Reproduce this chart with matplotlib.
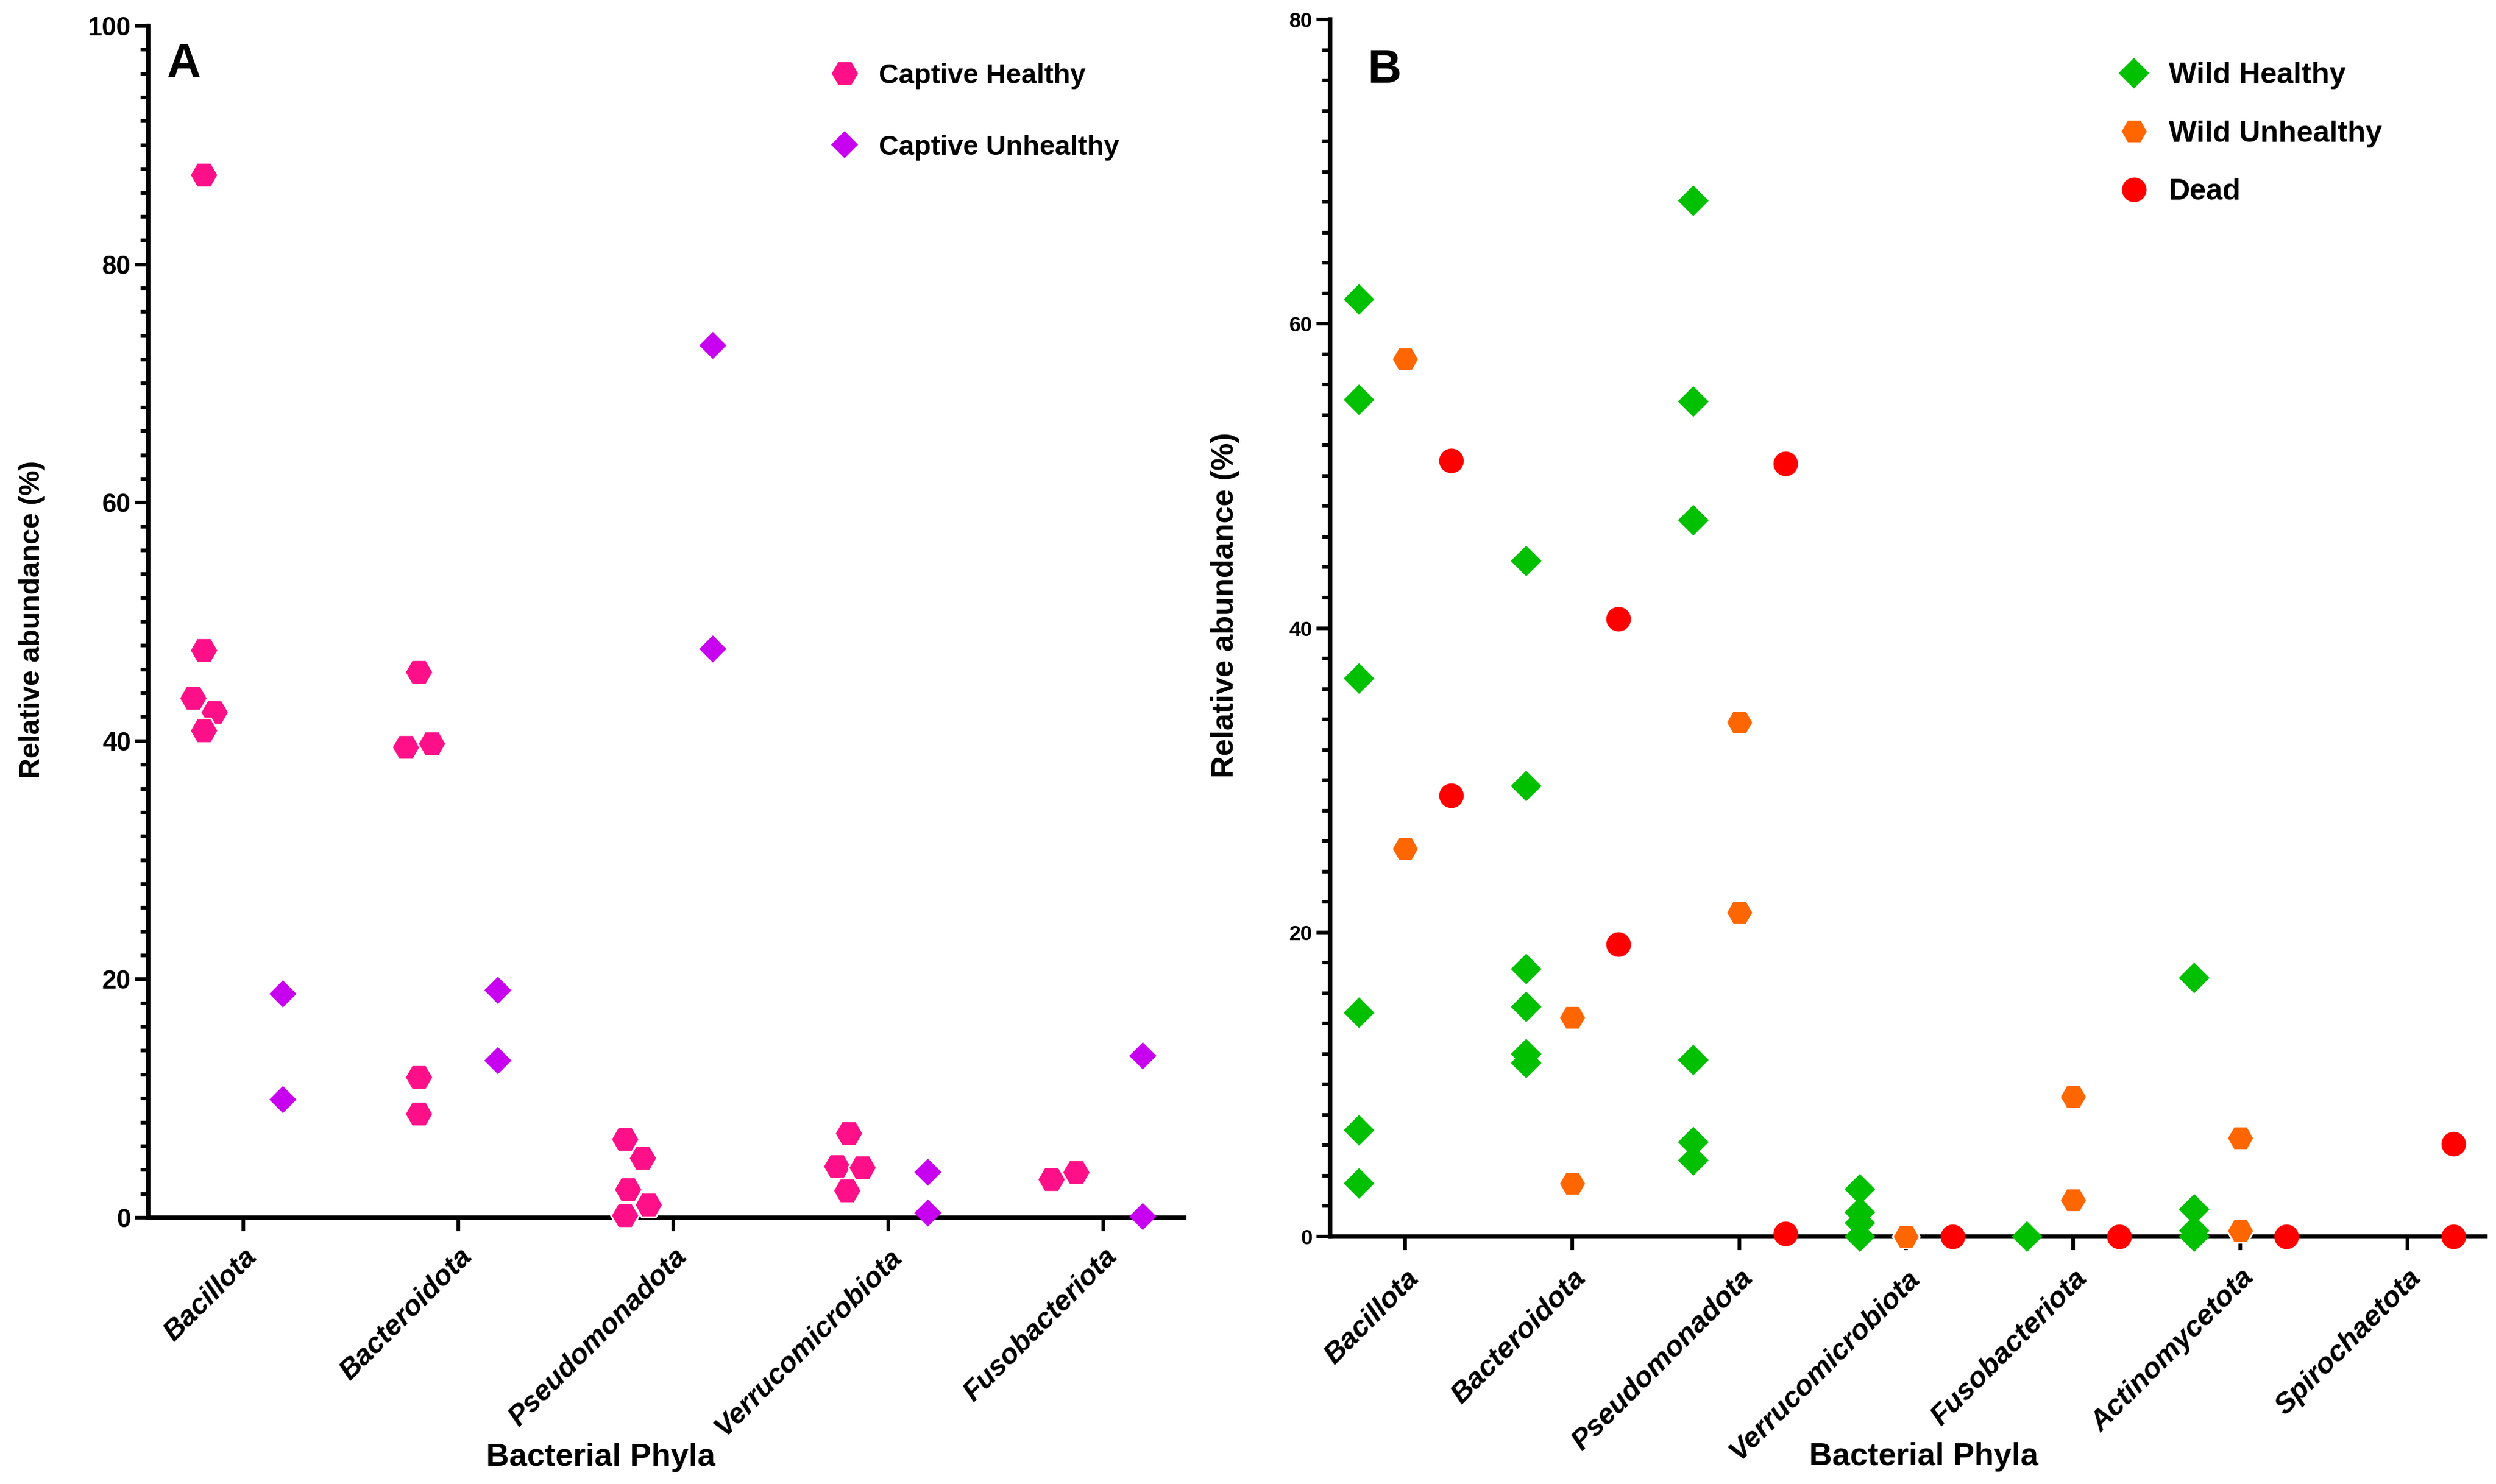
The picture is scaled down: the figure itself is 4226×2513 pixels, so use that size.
import numpy as np
import matplotlib
matplotlib.use('Agg')
import matplotlib.pyplot as plt
from matplotlib.lines import Line2D
from matplotlib.ticker import MultipleLocator

plt.rcParams['font.family'] = ['Liberation Sans', 'DejaVu Sans']
plt.rcParams['font.weight'] = 'bold'

# ---- panel A data (captive animals) ----
phyla_a = ['Bacillota', 'Bacteroidota', 'Pseudomonadota', 'Verrucomicrobiota', 'Fusobacteriota']
captive_healthy = [
    [87.5, 47.6, 43.6, 42.4, 40.9],
    [45.8, 39.5, 39.8, 11.8, 8.7],
    [6.6, 5.0, 2.4, 1.1, 0.2],
    [7.1, 4.3, 4.2, 2.3],
    [3.2, 3.8],
]
captive_unhealthy = [
    [18.8, 9.9],
    [19.1, 13.2],
    [73.2, 47.7],
    [3.8, 0.4],
    [13.6, 0.1],
]

# ---- panel B data (wild / dead animals) ----
phyla_b = ['Bacillota', 'Bacteroidota', 'Pseudomonadota', 'Verrucomicrobiota',
           'Fusobacteriota', 'Actinomycetota', 'Spirochaetota']
wild_healthy = [
    [61.6, 55.0, 36.7, 14.7, 7.0, 3.5],
    [44.4, 29.6, 17.6, 15.1, 12.0, 11.4],
    [68.1, 54.9, 47.1, 11.6, 6.2, 5.0],
    [3.1, 1.6, 0.9, 0.0],
    [0.0],
    [17.0, 1.8, 0.4, 0.0],
    [],
]
wild_unhealthy = [
    [57.7, 25.5],
    [14.4, 3.5],
    [33.8, 21.3],
    [0.0],
    [9.2, 2.4],
    [6.5, 0.4],
    [],
]
dead = [
    [51.0, 29.0],
    [40.6, 19.2],
    [50.8, 0.2],
    [0.0],
    [0.0],
    [0.0],
    [6.1, 0.0],
]

PINK = '#FF1088'
PURPLE = '#C800F0'
GREEN = '#00C000'
ORANGE = '#FF6600'
RED = '#FF0000'

DPI = 300
fig = plt.figure(figsize=(4226 / DPI, 2513 / DPI), dpi=DPI)
ax_a = fig.add_axes([0.0594, 0.17947, 0.4150, 0.8030])
ax_b = fig.add_axes([0.53289, 0.16673, 0.46285, 0.82014])


def swarm_x(ax, xc, values, diam_pt):
    """Beeswarm-style x positions so markers in one column do not overlap."""
    diam = diam_pt * ax.figure.dpi / 72
    px_per_x = ax.transData.transform((1, 0))[0] - ax.transData.transform((0, 0))[0]
    ypx = [ax.transData.transform((xc, v))[1] for v in values]
    offs = []
    for i, y in enumerate(ypx):
        prev = list(zip(offs, ypx[:i]))
        cands = [0.0]
        for ox, oy in prev:
            dy = abs(y - oy)
            if dy < diam:
                dx = np.sqrt(diam ** 2 - dy ** 2)
                cands += [ox + dx, ox - dx]
        cands.sort(key=lambda c: (round(abs(c), 6), -c))
        for c in cands:
            if all((c - ox) ** 2 + (y - oy) ** 2 >= diam ** 2 - 1e-6 for ox, oy in prev):
                offs.append(c)
                break
        else:
            offs.append(max(cands) + diam)
    # centre each cluster of touching markers on the column
    n = len(offs)
    parent = list(range(n))

    def find(a):
        while parent[a] != a:
            a = parent[a]
        return a
    for i in range(n):
        for j in range(i):
            if (offs[i] - offs[j]) ** 2 + (ypx[i] - ypx[j]) ** 2 < (diam * 1.01) ** 2:
                parent[find(i)] = find(j)
    roots = [find(i) for i in range(n)]
    for r in set(roots):
        idx = [i for i in range(n) if roots[i] == r]
        m = np.mean([offs[i] for i in idx])
        for i in idx:
            offs[i] -= m
    return [xc + o / px_per_x for o in offs]


def style(ax, ymax, ylab_size, ytick_size, ylab_xy, xlab_xy, tick_pad):
    for s in ['top', 'right']:
        ax.spines[s].set_visible(False)
    for s in ['left', 'bottom']:
        ax.spines[s].set_linewidth(1.8)
    ax.set_ylim(0, ymax)
    ax.yaxis.set_major_locator(MultipleLocator(20))
    ax.yaxis.set_minor_locator(MultipleLocator(2))
    ax.tick_params(axis='y', which='major', length=5.6, width=1.5, labelsize=ytick_size, pad=1.5)
    ax.tick_params(axis='y', which='minor', length=3.2, width=1.5)
    ax.tick_params(axis='x', which='major', length=5.5, width=1.5, pad=tick_pad)
    ax.set_ylabel('Relative abundance (%)', fontsize=ylab_size, fontweight='bold')
    ax.yaxis.set_label_coords(*ylab_xy)
    ax.set_xlabel('Bacterial Phyla', fontsize=13, fontweight='bold')
    ax.xaxis.set_label_coords(*xlab_xy)


# ---- panel A ----
ax_a.set_xlim(-0.442, 4.376)
ax_a.set_ylim(0, 100)
off_a = 0.184
for i, name in enumerate(phyla_a):
    xs = swarm_x(ax_a, i - off_a, captive_healthy[i], 10.5)
    ax_a.plot(xs, captive_healthy[i], ls='none', marker='H', ms=11.5, color=PINK,
              mec='white', mew=0.7, clip_on=False, zorder=3)
    xs = swarm_x(ax_a, i + off_a, captive_unhealthy[i], 10.5)
    ax_a.plot(xs, captive_unhealthy[i], ls='none', marker='D', ms=7.8, color=PURPLE,
              mew=0, clip_on=False, zorder=3)
ax_a.set_xticks(range(len(phyla_a)))
ax_a.set_xticklabels(phyla_a, rotation=45, ha='right', va='top', rotation_mode='anchor',
                     fontstyle='italic', fontweight='bold', fontsize=11.6)
style(ax_a, 100, 11.5, 10.5, (-0.099, 0.502), (0.437, -0.189), 5)
ax_a.text(0.0177, 0.986, 'A', transform=ax_a.transAxes, fontsize=19, fontweight='bold',
          ha='left', va='top')
handles_a = [
    Line2D([], [], ls='none', marker='H', ms=11.5, color=PINK, mec='white', mew=0.7),
    Line2D([], [], ls='none', marker='D', ms=7.8, color=PURPLE, mew=0),
]
ax_a.legend(handles_a, ['Captive Healthy', 'Captive Unhealthy'], loc='upper left',
            bbox_to_anchor=(0.658, 0.969), frameon=False, prop={'size': 11.2, 'weight': 'bold'},
            handlelength=1.07, handletextpad=0.7, labelspacing=1.65, borderpad=0, borderaxespad=0)

# ---- panel B ----
ax_b.set_xlim(-0.449, 6.467)
ax_b.set_ylim(0, 80)
off_b = 0.276
for i, name in enumerate(phyla_b):
    n = len(wild_healthy[i])
    ax_b.plot([i - off_b] * n, wild_healthy[i], ls='none', marker='D', ms=8.8, color=GREEN,
              mew=0, clip_on=False, zorder=3)
    n = len(wild_unhealthy[i])
    ax_b.plot([i] * n, wild_unhealthy[i], ls='none', marker='H', ms=11, color=ORANGE,
              mec='white', mew=0.7, clip_on=False, zorder=3)
    n = len(dead[i])
    ax_b.plot([i + off_b] * n, dead[i], ls='none', marker='o', ms=10, color=RED,
              mew=0, clip_on=False, zorder=3)
ax_b.set_xticks(range(len(phyla_b)))
ax_b.set_xticklabels(phyla_b, rotation=45, ha='right', va='top', rotation_mode='anchor',
                     fontstyle='italic', fontweight='bold', fontsize=11.8)
style(ax_b, 80, 12.5, 8.5, (-0.078, 0.519), (0.514, -0.169), 6)
ax_b.text(0.0327, 0.976, 'B', transform=ax_b.transAxes, fontsize=19, fontweight='bold',
          ha='left', va='top')
handles_b = [
    Line2D([], [], ls='none', marker='D', ms=8.8, color=GREEN, mew=0),
    Line2D([], [], ls='none', marker='H', ms=11, color=ORANGE, mec='white', mew=0.7),
    Line2D([], [], ls='none', marker='o', ms=10, color=RED, mew=0),
]
ax_b.legend(handles_b, ['Wild Healthy', 'Wild Unhealthy', 'Dead'], loc='upper left',
            bbox_to_anchor=(0.683, 0.965), frameon=False, prop={'size': 12, 'weight': 'bold'},
            handlelength=1.0, handletextpad=0.68, labelspacing=1.05, borderpad=0, borderaxespad=0)

fig.savefig('out.png', dpi=DPI)
